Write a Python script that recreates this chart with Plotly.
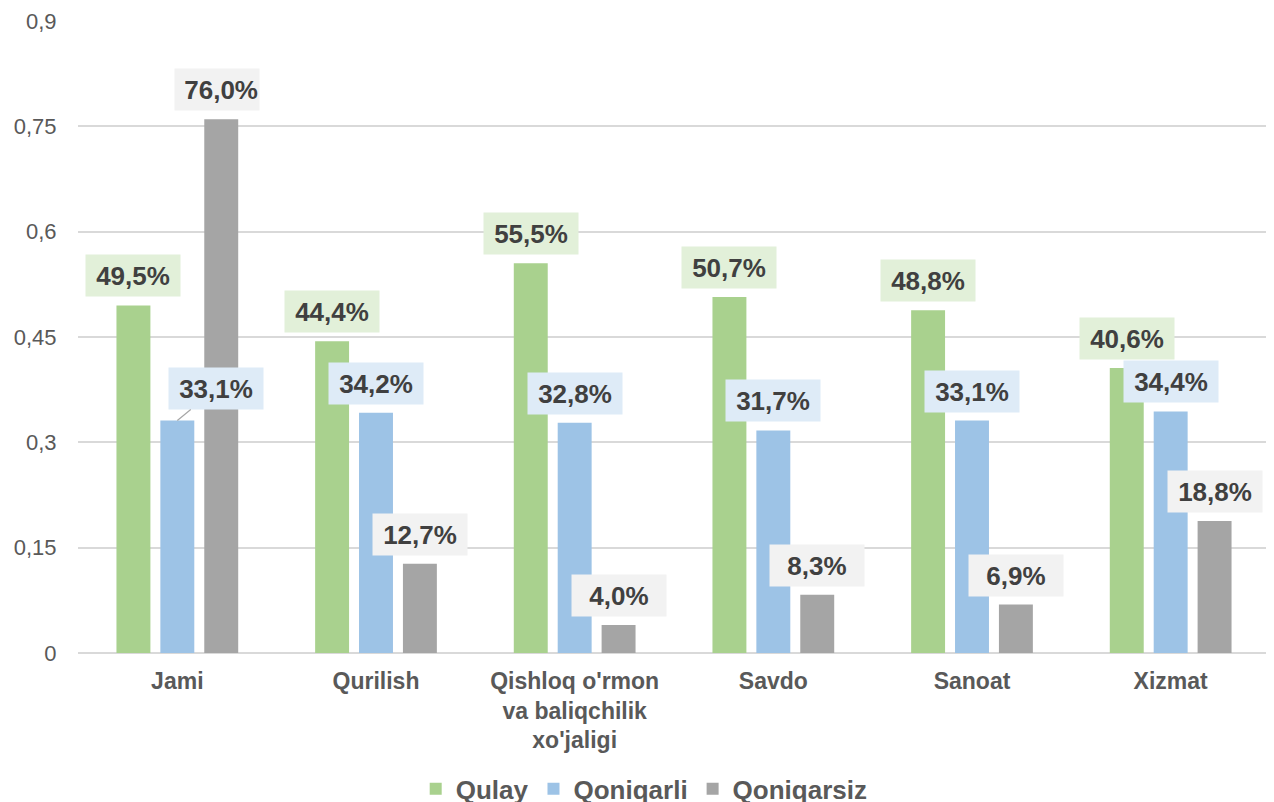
import plotly.graph_objects as go

categories = ["Jami", "Qurilish", "Qishloq o'rmon<br>va baliqchilik<br>xo'jaligi", "Savdo", "Sanoat", "Xizmat"]
series_names = ["Qulay", "Qoniqarli", "Qoniqarsiz"]
qulay = [0.495, 0.444, 0.555, 0.507, 0.488, 0.406]
qoniqarli = [0.331, 0.342, 0.328, 0.317, 0.331, 0.344]
qoniqarsiz = [0.760, 0.127, 0.040, 0.083, 0.069, 0.188]
y_tickvals = [0, 0.15, 0.3, 0.45, 0.6, 0.75, 0.9]
y_ticktext = ["0", "0,15", "0,3", "0,45", "0,6", "0,75", "0,9"]

bar_colors = ["#A9D18E", "#9DC3E6", "#A5A5A5"]
label_bg = ["#E2F0D9", "#DEEBF7", "#F2F2F2"]
FONT = "Liberation Sans, Arial, sans-serif"
BARGAP = 0.337
BARGROUPGAP = 0.227

all_series = [qulay, qoniqarli, qoniqarsiz]

fig = go.Figure()
for k, (name, vals) in enumerate(zip(series_names, all_series)):
    fig.add_trace(go.Bar(
        x=list(range(len(categories))), y=vals, name=f"<b>{name}</b>",
        marker=dict(color=bar_colors[k], line=dict(width=0)),
        hoverinfo="skip",
    ))

slot = (1 - BARGAP) / 3
annotations = []
for k, vals in enumerate(all_series):
    for i, v in enumerate(vals):
        txt = f"{v*100:.1f}%".replace(".", ",")
        a = dict(
            x=i + (k - 1) * slot, y=v, xref="x", yref="y",
            text=f"<b>{txt}</b>",
            font=dict(family=FONT, size=26, color="#404040"),
            bgcolor=label_bg[k], width=92, height=39,
            showarrow=False, yanchor="bottom", yshift=8,
        )
        if i == 0 and k == 1:
            # label displaced with leader line
            a.update(showarrow=True, arrowhead=0, arrowwidth=1.2,
                     arrowcolor="#A6A6A6", ax=39, ay=-32, yanchor="middle",
                     yshift=0, standoff=0)
        if i == 0 and k == 2:
            a.update(width=82, xshift=-4, align="right")
        annotations.append(a)

fig.update_layout(
    width=1274, height=840,
    margin=dict(l=70, r=12, t=13, b=195),
    plot_bgcolor="white", paper_bgcolor="white",
    barmode="group", bargap=BARGAP, bargroupgap=BARGROUPGAP,
    font=dict(family=FONT, color="#595959"),
    annotations=annotations,
    showlegend=True,
    legend=dict(orientation="h", x=0.475, xanchor="center", y=-0.215, yanchor="middle",
                font=dict(family=FONT, size=26, color="#595959"),
                itemwidth=30, tracegroupgap=0),
)
fig.update_yaxes(range=[0, 0.9], tickvals=y_tickvals, ticktext=y_ticktext,
                 showgrid=True, gridcolor="#D9D9D9", gridwidth=1.5,
                 zeroline=True, zerolinecolor="#D9D9D9", zerolinewidth=1.5,
                 showline=False, ticks="outside", ticklen=16, tickcolor="rgba(0,0,0,0)",
                 tickfont=dict(family=FONT, size=22, color="#595959"), automargin=False)
fig.update_xaxes(showgrid=False, showline=False, ticks="outside", ticklen=7,
                 tickcolor="rgba(0,0,0,0)", range=[-0.5, len(categories) - 0.5],
                 tickvals=list(range(len(categories))),
                 ticktext=[f"<b>{c}</b>".replace("<br>", "</b><br><b>") for c in categories],
                 tickfont=dict(family=FONT, size=23, color="#595959"), automargin=False)

fig.write_html("out.html")
